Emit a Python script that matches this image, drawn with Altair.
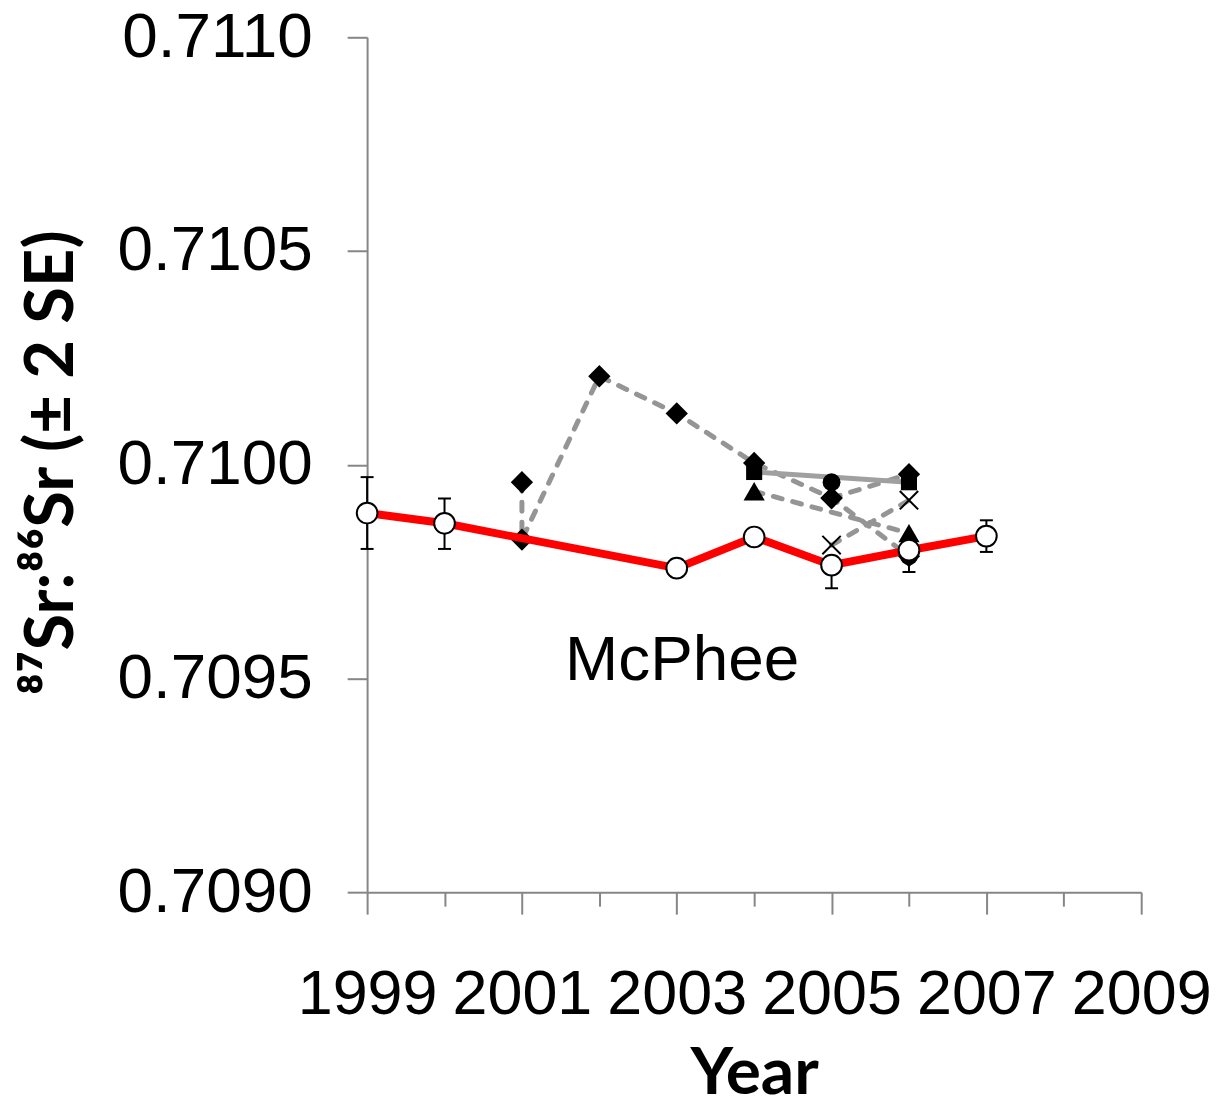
import altair as alt
import pandas as pd

# ---- data ----
ref_years = [1999, 2000, 2003, 2004, 2005, 2006, 2007]
ref_vals = [0.709887, 0.709863, 0.709758, 0.709831, 0.709765, 0.709800, 0.709833]
ref_err_hi = [0.000084, 0.000058, 0.0, 0.0, 0.0, 0.0, 0.000037]
ref_err_lo = [0.000084, 0.000060, 0.0, 0.0, 0.000054, 0.000051, 0.000037]

diamond_a_years = [2001, 2001, 2002, 2003, 2004, 2005, 2006]
diamond_a_vals = [0.709959, 0.709825, 0.710207, 0.710120, 0.710004, 0.709922, 0.709786]
diamond_b_years = [2005, 2006]
diamond_b_vals = [0.709922, 0.709978]
square_years = [2004, 2006]
square_vals = [0.709983, 0.709959]
triangle_years = [2004, 2006]
triangle_vals = [0.709938, 0.709840]
cross_years = [2005, 2006]
cross_vals = [0.709812, 0.709917]
circle_years = [2005, 2006]
circle_vals = [0.709959, 0.709786]

x_ticks = list(range(1999, 2010))
y_ticks = [0.7090, 0.7095, 0.7100, 0.7105, 0.7110]

site_label = ["McPhee"]
site_label_x = [2003.07]
site_label_y = [0.70954]

# ---- tables ----
ref_df = pd.DataFrame({"year": ref_years, "val": ref_vals,
                       "hi": [v + e for v, e in zip(ref_vals, ref_err_hi)],
                       "lo": [v - e for v, e in zip(ref_vals, ref_err_lo)],
                       "ehi": ref_err_hi, "elo": ref_err_lo})

dashed_rows = []
for name, ys, vs in [("diamond_a", diamond_a_years, diamond_a_vals),
                     ("diamond_b", diamond_b_years, diamond_b_vals),
                     ("triangle", triangle_years, triangle_vals),
                     ("cross", cross_years, cross_vals)]:
    for i, (y, v) in enumerate(zip(ys, vs)):
        dashed_rows.append({"series": name, "year": y, "val": v, "ord": i})
dashed_df = pd.DataFrame(dashed_rows)
solid_df = pd.DataFrame({"year": square_years, "val": square_vals, "ord": range(len(square_years))})

diamond_df = pd.DataFrame({"year": diamond_a_years + diamond_b_years, "val": diamond_a_vals + diamond_b_vals})
square_df = pd.DataFrame({"year": square_years, "val": square_vals})
triangle_df = pd.DataFrame({"year": triangle_years, "val": triangle_vals})
cross_df = pd.DataFrame({"year": cross_years, "val": cross_vals})
circle_df = pd.DataFrame({"year": circle_years, "val": circle_vals})
label_df = pd.DataFrame({"x": site_label_x, "y": site_label_y, "t": site_label})

xscale = alt.Scale(domain=[1999, 2009], nice=False, zero=False)
yscale = alt.Scale(domain=[0.7090, 0.7110], nice=False, zero=False)

X = alt.X("year:Q", scale=xscale, title="Year",
          axis=alt.Axis(values=x_ticks, format="d",
                        labelExpr="datum.value % 2 == 1 ? datum.label : ''",
                        tickSize={"expr": "datum.value % 2 == 1 ? 22 : 14"},
                        labelPadding=50, labelFontSize=63, labelFont="Liberation Sans",
                        labelFlush=False, labelOverlap=False, labelLimit=0,
                        titleFont="Lato", titleFontSize=66, titleFontWeight="bold",
                        titleBaseline="alphabetic", titleX=388, titleY=202,
                        titleAlign="center", titleColor="black"))
Y = alt.Y("val:Q", scale=yscale, title="⁸⁷Sr:⁸⁶Sr (± 2 SE)",
          axis=alt.Axis(values=y_ticks, format=".4f", tickSize=20,
                        labelPadding=35, labelFontSize=64, labelFont="Liberation Sans",
                        labelFlush=False, labelOverlap=False, labelLimit=0,
                        titleFont="Lato", titleFontSize=67, titleFontWeight="bold",
                        titleBaseline="alphabetic", titleX=-295, titleY=426,
                        titleAngle=270, titleAlign="center", titleColor="black"))

base_x = alt.X("year:Q", scale=xscale)
base_y = alt.Y("val:Q", scale=yscale)

dashed = alt.Chart(dashed_df).mark_line(color="#959595", strokeWidth=5, strokeDash=[9, 11],
                                        strokeCap="round").encode(
    x=X, y=Y, detail="series:N", order="ord:Q")
solid = alt.Chart(solid_df).mark_line(color="#a0a0a0", strokeWidth=5).encode(
    x=base_x, y=base_y, order="ord:Q")

diam = alt.Chart(diamond_df).mark_point(shape="diamond", size=500, filled=True,
                                        color="black", opacity=1).encode(x=base_x, y=base_y)
sq = alt.Chart(square_df).mark_point(shape="square", size=260, filled=True,
                                     color="black", opacity=1).encode(x=base_x, y=base_y)
tri = alt.Chart(triangle_df).mark_point(shape="triangle-up", size=450, filled=True,
                                        color="black", opacity=1).encode(x=base_x, y=base_y)
circ = alt.Chart(circle_df).mark_point(shape="circle", size=320, filled=True,
                                       color="black", opacity=1).encode(x=base_x, y=base_y)
crs = alt.Chart(cross_df).mark_point(shape="M-1,-1L1,1M1,-1L-1,1", size=340, filled=False,
                                     color="black", strokeWidth=2, opacity=1).encode(x=base_x, y=base_y)

err_df_hi = ref_df[ref_df["ehi"] > 0]
err_df_lo = ref_df[ref_df["elo"] > 0]
err_rule = alt.Chart(ref_df[(ref_df["ehi"] > 0) | (ref_df["elo"] > 0)]).mark_rule(
    color="black", strokeWidth=2).encode(x=base_x, y=alt.Y("lo:Q", scale=yscale), y2="hi:Q")
cap_hi = alt.Chart(err_df_hi).mark_tick(orient="horizontal", color="black", size=13,
                                        thickness=2, opacity=1).encode(
    x=base_x, y=alt.Y("hi:Q", scale=yscale))
cap_lo = alt.Chart(err_df_lo).mark_tick(orient="horizontal", color="black", size=13,
                                        thickness=2, opacity=1).encode(
    x=base_x, y=alt.Y("lo:Q", scale=yscale))

red = alt.Chart(ref_df).mark_line(color="#ff0000", strokeWidth=8).encode(x=base_x, y=base_y)
open_c = alt.Chart(ref_df).mark_point(shape="circle", size=430, filled=True, fill="white",
                                      stroke="black", strokeWidth=2, opacity=1).encode(x=base_x, y=base_y)

label = alt.Chart(label_df).mark_text(font="Liberation Sans", fontSize=64, color="black",
                                      align="center", baseline="middle").encode(
    x=alt.X("x:Q", scale=xscale), y=alt.Y("y:Q", scale=yscale), text="t:N")

chart = alt.layer(dashed, solid, diam, sq, tri, circ, crs, err_rule, cap_hi, cap_lo,
                  red, open_c, label).properties(
    width=776, height=857,
    autosize=alt.AutoSizeParams(type="none"),
    padding={"left": 360, "top": 28, "right": 80, "bottom": 214},
).configure_view(stroke=None).configure_axis(
    grid=False, domainColor="#868686", domainWidth=2, tickColor="#868686", tickWidth=2,
    labelColor="black")

chart.save("out.html", embed_options={"renderer": "svg", "actions": False})
